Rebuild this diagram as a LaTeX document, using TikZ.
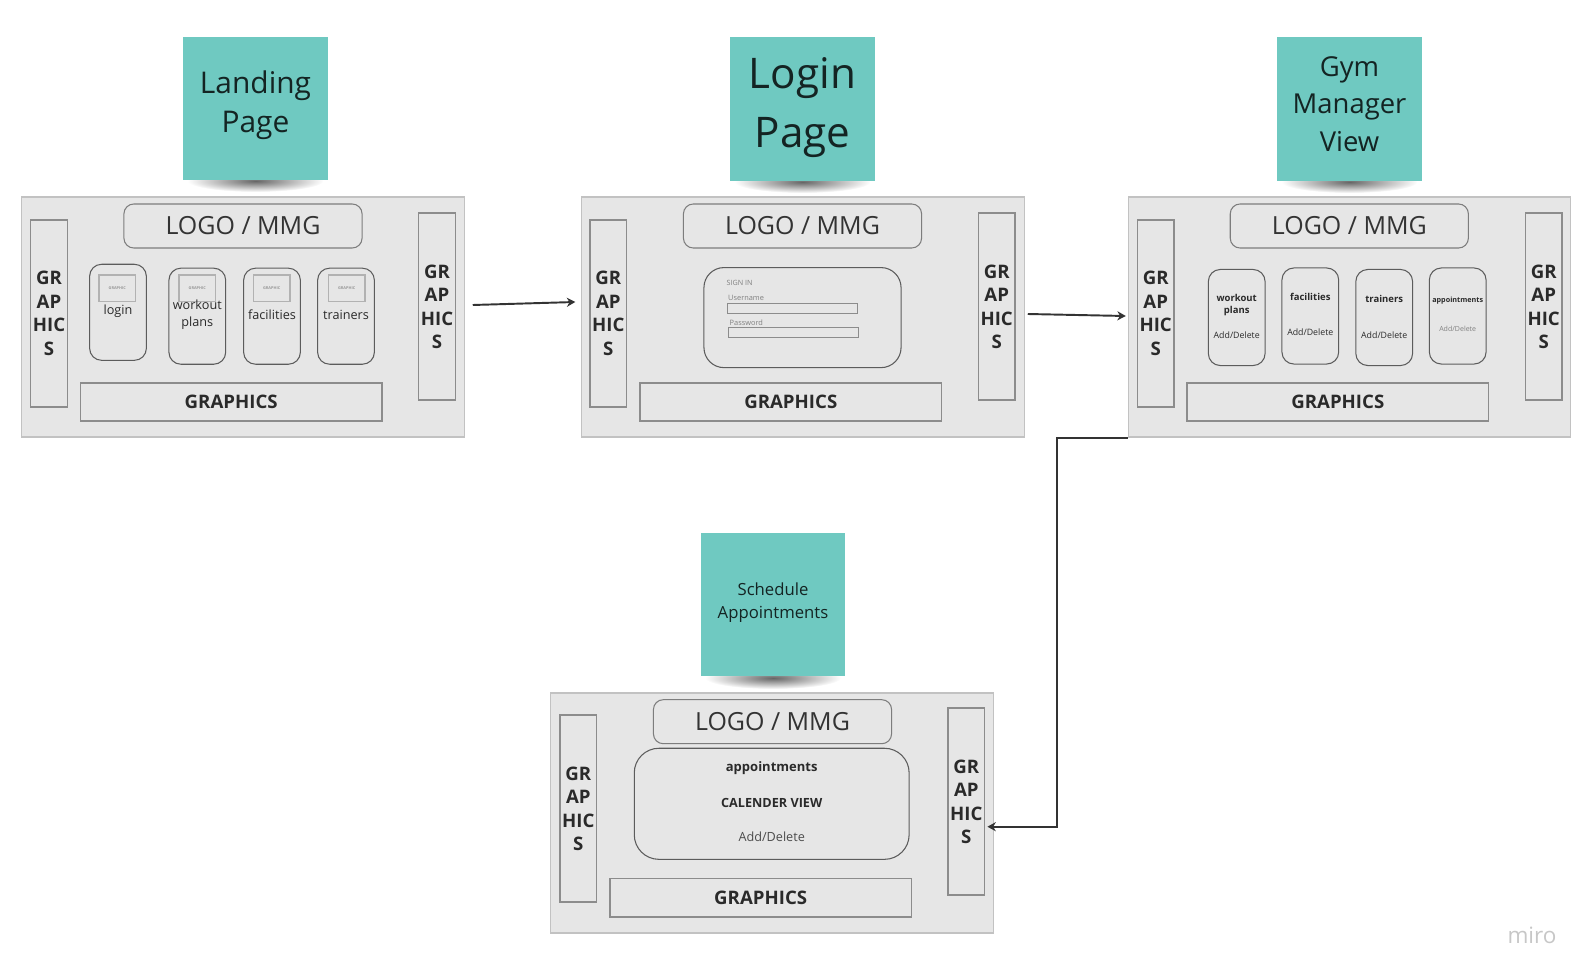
\documentclass[tikz,border=0pt]{standalone}
\usepackage{fontspec}
\setmainfont{Open Sans}
\usepackage{tikz}
\usetikzlibrary{calc, arrows.meta, positioning}
\usepackage{xcolor}

\definecolor{sticky}{HTML}{6FC9C1}
\definecolor{framefill}{HTML}{E6E6E6}
\definecolor{frameline}{HTML}{C2C2C2}
\definecolor{boxline}{HTML}{8C8C8C}
\definecolor{cardline}{HTML}{5C5C5C}
\definecolor{inktext}{HTML}{2A2A2A}
\definecolor{flowline}{HTML}{333333}
\newcommand{\fsz}[2]{\fontsize{#1}{#2}\selectfont}

\begin{document}
\begin{tikzpicture}[x=0.01cm, y=-0.01cm, >={Stealth[length=2.4pt, width=2.6pt]}]
	\tikzstyle{screen} = [draw=frameline, fill=framefill, line width=0.35pt, inner sep=0, minimum width=4.42cm, minimum height=2.40cm]
	\tikzstyle{logo} = [draw=cardline!80, rounded corners=2.8pt, line width=0.3pt, inner sep=0, minimum width=2.38cm, minimum height=0.44cm, text=black!80, font=\fsz{7.1}{8}]
	\tikzstyle{sidebar} = [draw=boxline, line width=0.45pt, inner sep=0, minimum width=0.366cm, minimum height=1.87cm, align=center, text=inktext, font=\bfseries\fsz{5.3}{6.7}]
	\tikzstyle{botbar} = [draw=boxline, line width=0.45pt, inner sep=0, minimum width=3.01cm, minimum height=0.38cm, text=inktext, font=\bfseries\fsz{5.3}{6}]
	\tikzstyle{card} = [draw=cardline, rounded corners=3.4pt, line width=0.3pt, inner sep=0, minimum width=0.567cm, minimum height=0.96cm]
	\tikzstyle{thumb} = [draw=black!30, line width=0.45pt, inner sep=0, minimum width=0.367cm, minimum height=0.267cm, text=black!40, font=\bfseries\fsz{1.1}{1.3}]
	\tikzstyle{lbl} = [inner sep=0, align=center, text=inktext]
	\tikzstyle{field} = [draw=black!45, line width=0.4pt, inner sep=0, minimum width=1.30cm, minimum height=0.10cm]
	\tikzstyle{note} = [fill=sticky, inner sep=0, minimum width=1.44cm, minimum height=1.43cm]
	\tikzstyle{notetxt} = [inner sep=0, align=center, text=black!82!sticky]
	\tikzstyle{notedrop} = [inner color=black!60, outer color=white]
	\tikzstyle{flow} = [->, draw=flowline, line width=0.55pt]

	\useasboundingbox (0,0) rectangle (1594,979);

	% sticky notes with their shadows
	\foreach \nx/\ny in {255.5/180, 802.5/181, 1349.5/181, 773/677}
		\shade[notedrop] (\nx,\ny+1) ellipse [x radius=68, y radius=11];
	\node[note] (landnote)  at (255.5,108.5) {};
	\node[note] (loginnote) at (802.5,109) {};
	\node[note] (gymnote)   at (1349.5,109) {};
	\node[note] (schednote) at (773,604.5) {};
	\node[notetxt, font=\fsz{8.5}{11}]   (landtxt)  at ($(landnote)+(0,-3)$)  {Landing\\Page};
	\node[notetxt, font=\fsz{12}{16.8}]  (logintxt) at ($(loginnote)+(0,-1)$) {Login\\Page};
	\node[notetxt, font=\fsz{7.8}{10.7}] (gymtxt)   at ($(gymnote)+(0,-5)$)   {Gym\\Manager\\View};
	\node[notetxt, font=\fsz{4.75}{6.6}] (schedtxt) at ($(schednote)+(0,-2)$) {Schedule\\Appointments};

	% landing page
	\node[screen] (land) at (243,317) {};
	\node[logo] (landlogo) at (243,226) {LOGO / MMG};
	\node[sidebar] (landL) at (49,313.5) {GR\\AP\\HIC\\S};
	\node[sidebar] (landR) at (437,306.7) {GR\\AP\\HIC\\S};
	\node[botbar] (landbot) at (231.2,402) {GRAPHICS};
	\node[card] (cardlogin) at (118,312.3) {};
	\node[card] (cardplans) at (197.3,316.2) {};
	\node[card] (cardfac)   at (272,316.2) {};
	\node[card] (cardtrain) at (346,316.2) {};
	\node[thumb] (thlogin) at (117.3,288.3) {GRAPHIC};
	\node[thumb] (thplans) at (197.3,288.3) {GRAPHIC};
	\node[thumb] (thfac)   at (271.7,288.3) {GRAPHIC};
	\node[thumb] (thtrain) at (346.7,288.3) {GRAPHIC};
	\node[lbl, font=\fsz{3.6}{4.7}] (lblogin) at (118,311.7) {login};
	\node[lbl, font=\fsz{3.6}{4.7}] (lbplans) at (197.3,314.5) {workout\\plans};
	\node[lbl, font=\fsz{3.6}{4.7}] (lbfac)   at (272,315) {facilities};
	\node[lbl, font=\fsz{3.6}{4.7}] (lbtrain) at (346,315) {trainers};

	% login page
	\node[screen] (loginpg) at (803,317) {};
	\node[logo] (loginlogo) at (802.5,226) {LOGO / MMG};
	\node[sidebar] (loginL) at (608.3,313.5) {GR\\AP\\HIC\\S};
	\node[sidebar] (loginR) at (996.7,306.7) {GR\\AP\\HIC\\S};
	\node[botbar] (loginbot) at (790.8,402) {GRAPHICS};
	\node[draw=cardline, rounded corners=5.7pt, line width=0.3pt, inner sep=0, minimum width=1.97cm, minimum height=1.00cm] (signin) at (802.5,317.6) {};
	\node[lbl, anchor=west, text=black!50, font=\fsz{2.05}{2.4}] (signtitle) at (726,283) {SIGN IN};
	\node[lbl, anchor=west, text=black!50, font=\fsz{2.1}{2.4}] (userlbl) at (727.5,298) {Username};
	\node[field] (userfield) at (792.4,308.3) {};
	\node[lbl, anchor=west, text=black!50, font=\fsz{2.1}{2.4}] (passlbl) at (729,322.3) {Password};
	\node[field] (passfield) at (793.3,332.3) {};

	% gym manager view
	\node[screen] (gymview) at (1349.5,317) {};
	\node[logo] (gymlogo) at (1349.3,226) {LOGO / MMG};
	\node[sidebar] (gymL) at (1155.7,313.5) {GR\\AP\\HIC\\S};
	\node[sidebar] (gymR) at (1543.7,306.7) {GR\\AP\\HIC\\S};
	\node[botbar] (gymbot) at (1337.8,402) {GRAPHICS};
	\node[card] (gplans) at (1236.7,317.5) {};
	\node[card] (gfac)   at (1310.3,316) {};
	\node[card] (gtrain) at (1384.2,317.5) {};
	\node[card] (gappt)  at (1457.7,316) {};
	\node[lbl, font=\bfseries\fsz{2.7}{3.4}] (gplanst) at (1236.7,304.7) {workout\\plans};
	\node[lbl, font=\fsz{2.5}{3}] (gplansa) at (1236.7,335) {Add/Delete};
	\node[lbl, font=\bfseries\fsz{2.7}{3.4}] (gfact) at (1310.3,297) {facilities};
	\node[lbl, font=\fsz{2.5}{3}] (gfaca) at (1310.3,332.7) {Add/Delete};
	\node[lbl, font=\bfseries\fsz{2.7}{3.4}] (gtraint) at (1384.2,298.7) {trainers};
	\node[lbl, font=\fsz{2.5}{3}] (gtraina) at (1384.2,335) {Add/Delete};
	\node[lbl, font=\bfseries\fsz{2.05}{3}] (gapptt) at (1457.7,300.3) {appointments};
	\node[lbl, text=black!50, font=\fsz{2}{3}] (gappta) at (1457.7,329.3) {Add/Delete};

	% schedule appointments
	\node[screen] (sched) at (772,813) {};
	\node[logo] (schedlogo) at (772.5,721.7) {LOGO / MMG};
	\node[sidebar] (schedL) at (578.3,808.7) {GR\\AP\\HIC\\S};
	\node[sidebar] (schedR) at (966.3,801.7) {GR\\AP\\HIC\\S};
	\node[botbar] (schedbot) at (760.7,897.7) {GRAPHICS};
	\node[draw=cardline, rounded corners=7pt, line width=0.3pt, inner sep=0, minimum width=2.747cm, minimum height=1.11cm] (calbox) at (771.7,803.8) {};
	\node[lbl, font=\bfseries\fsz{3.7}{4}] (calappt) at (771.7,767.7) {appointments};
	\node[lbl, font=\bfseries\fsz{3.6}{4}] (calview) at (771.7,802.7) {CALENDER VIEW};
	\node[lbl, text=black!70, font=\fsz{3.6}{4}] (caledit) at (771.7,837) {Add/Delete};

	\node[text=black!22, font=\fsz{6.4}{7}] (miro) at (1532,935) {miro};

	% flow between screens
	\draw[flow] ($(land.east)+(8,-12)$) -- ($(loginpg.west)+(-6,-15)$);
	\draw[flow] ($(loginpg.east)+(3,-3)$) -- ($(gymview.west)+(-2,-1)$);
	\draw[flow] (gymview.south west) -- ++(-71,0) |- ($(schedR.east)+(2,25)$);
\end{tikzpicture}
\end{document}
